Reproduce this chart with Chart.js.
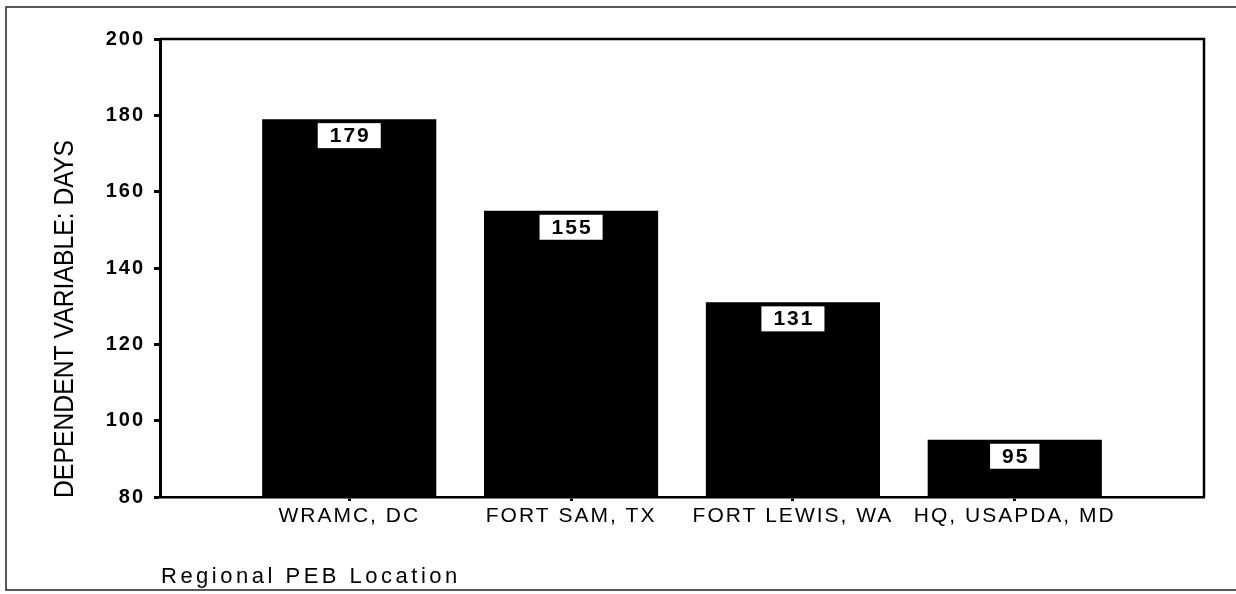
<!DOCTYPE html>
<html>
<head>
<meta charset="utf-8">
<script src="https://cdn.jsdelivr.net/npm/chart.js@4.4.1/dist/chart.umd.min.js"></script>
<style>
  html, body { margin: 0; padding: 0; background: #fff; }
  #wrap { width: 1236px; height: 594px; }
</style>
</head>
<body>
<div id="wrap"><canvas id="peb" width="1236" height="594"></canvas></div>
<script>
const categories = ['WRAMC, DC', 'FORT SAM, TX', 'FORT LEWIS, WA', 'HQ, USAPDA, MD'];
const days = [179, 155, 131, 95];
const yMin = 80;
const yMax = 200;
const yStep = 20;
const yTitle = 'DEPENDENT VARIABLE: DAYS';
const xTitle = 'Regional PEB Location';

const FONT = 'Arial, "Liberation Sans", sans-serif';

// frame, titles and the white value boxes
const decor = {
    id: 'decor',
    beforeUpdate(chart) { chart.ctx.letterSpacing = '2px'; },
    beforeDraw(chart) { chart.ctx.letterSpacing = '2px'; },
    afterDatasetsDraw(chart) {
        const ctx = chart.ctx;
        const meta = chart.getDatasetMeta(0);
        ctx.save();
        ctx.font = 'bold 21px ' + FONT;
        ctx.letterSpacing = '2px';
        ctx.textAlign = 'center';
        ctx.textBaseline = 'middle';
        meta.data.forEach((bar, i) => {
            const txt = String(days[i]);
            const w = ctx.measureText(txt).width + 22;
            ctx.fillStyle = '#fff';
            ctx.fillRect(bar.x - w / 2, bar.y + 4, w, 25);
            ctx.fillStyle = '#000';
            ctx.fillText(txt, bar.x + 1, bar.y + 17);
        });
        ctx.restore();
    },
    afterDraw(chart) {
        const { ctx, chartArea: a } = chart;
        ctx.save();
        ctx.letterSpacing = '0px';
        // top and right edges of the plot box
        ctx.strokeStyle = '#000';
        ctx.lineWidth = 2.5;
        ctx.beginPath();
        ctx.moveTo(a.left, a.top);
        ctx.lineTo(a.right, a.top);
        ctx.lineTo(a.right, a.bottom);
        ctx.stroke();
        // outer page frame
        ctx.strokeStyle = '#222';
        ctx.lineWidth = 1.5;
        ctx.strokeRect(6, 7, 1240, 583);
        // y title
        ctx.fillStyle = '#000';
        ctx.save();
        ctx.translate(65, a.bottom + 1);
        ctx.rotate(-Math.PI / 2);
        ctx.font = '28px ' + FONT;
        ctx.textAlign = 'left';
        ctx.textBaseline = 'middle';
        ctx.fillText(yTitle, 0, 0, a.height - 100);
        ctx.restore();
        // x title
        ctx.font = '22px ' + FONT;
        ctx.letterSpacing = '3.5px';
        ctx.textAlign = 'left';
        ctx.textBaseline = 'middle';
        ctx.fillText(xTitle, a.left + 1, 577);
        ctx.restore();
    }
};

new Chart(document.getElementById('peb'), {
    type: 'bar',
    data: {
        datasets: [{
            data: days.map((v, i) => ({ x: i, y: v })),
            backgroundColor: '#000',
            borderWidth: 0,
            barPercentage: 0.785,
            categoryPercentage: 1
        }]
    },
    options: {
        responsive: false,
        animation: false,
        layout: { padding: { left: 0, top: 39, right: 32, bottom: 0 } },
        plugins: {
            legend: { display: false },
            tooltip: { enabled: false }
        },
        scales: {
            x: {
                type: 'linear',
                min: -0.853,
                max: categories.length - 1 + 0.853,
                offset: false,
                afterBuildTicks: (s) => { s.ticks = categories.map((c, i) => ({ value: i })); },
                afterFit: (s) => { s.height = 97; },
                grid: {
                    offset: false,
                    drawOnChartArea: false,
                    drawTicks: true,
                    tickLength: 4,
                    tickWidth: 3,
                    tickColor: '#000'
                },
                border: { display: true, color: '#000', width: 2.5 },
                ticks: {
                    autoSkip: false,
                    maxRotation: 0,
                    padding: 3,
                    color: '#000',
                    font: { family: FONT, size: 21 },
                    callback: (v) => categories[v] ?? ''
                }
            },
            y: {
                min: yMin,
                max: yMax,
                afterFit: (s) => { s.width = 160; },
                grid: {
                    drawOnChartArea: false,
                    drawTicks: true,
                    tickLength: 6,
                    tickWidth: 3,
                    tickColor: '#000'
                },
                border: { display: true, color: '#000', width: 3 },
                ticks: {
                    stepSize: yStep,
                    padding: 9,
                    color: '#000',
                    font: { family: FONT, size: 20, weight: 'bold' }
                }
            }
        }
    },
    plugins: [decor]
});
</script>
</body>
</html>
